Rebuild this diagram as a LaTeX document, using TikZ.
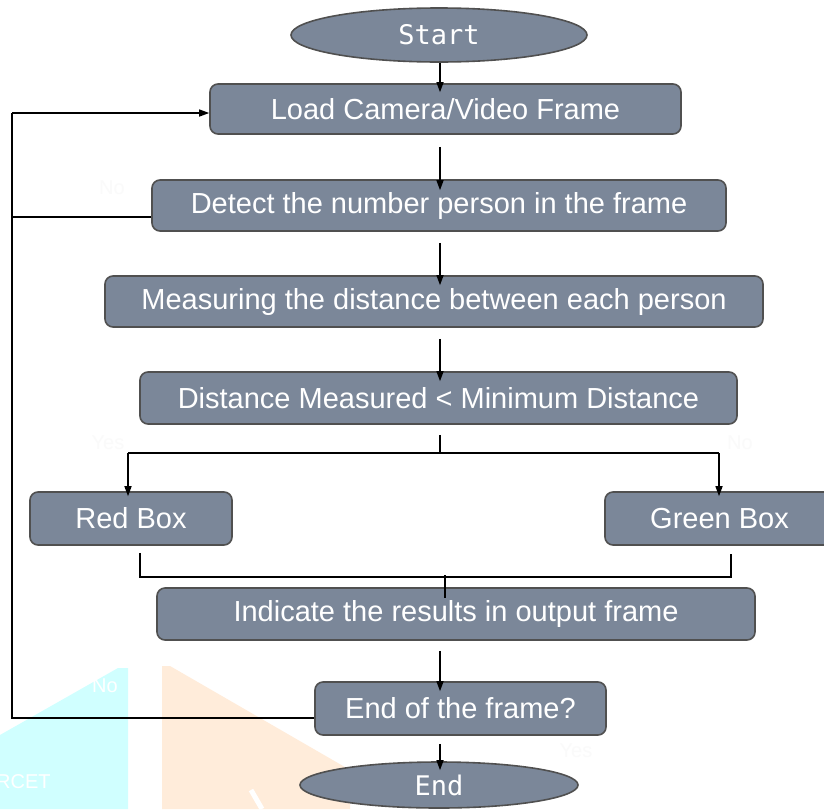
\documentclass[tikz,border=0pt]{standalone}
\usepackage{fontspec}
\setmainfont{Liberation Sans}
\newfontfamily\roundfont{DejaVu Sans Mono}
\usetikzlibrary{shapes.geometric,arrows.meta}

\definecolor{boxfill}{RGB}{123,135,153}
\definecolor{boxline}{RGB}{80,80,80}
\definecolor{markcyan}{RGB}{208,255,255}
\definecolor{markorange}{RGB}{255,236,218}
\definecolor{faint}{RGB}{250,250,250}

\tikzset{
  procbox/.style={draw=boxline, line width=1.6pt, fill=boxfill, rounded corners=8pt,
    text=white, inner sep=0pt, font=\fontsize{29}{33}\selectfont},
  termnode/.style={ellipse, draw=boxline, line width=1.6pt, fill=boxfill,
    text=white, inner sep=0pt, font=\roundfont\fontsize{27}{31}\selectfont},
  link/.style={line width=1.4pt, black},
  arr/.style={link, -{Triangle[length=10pt,width=7pt]}},
  ghost/.style={font=\fontsize{20}{24}\selectfont, inner sep=0pt}
}

\begin{document}
\begin{tikzpicture}[x=1pt, y=-1pt]
  \useasboundingbox (0,0) rectangle (824,809);
  \fill[white] (0,0) rectangle (824,809);

  % background watermark shapes
  \fill[markcyan] (0,735) -- (118,668) -- (128,668) -- (128,809) -- (0,809) -- cycle;
  \fill[markorange] (162,666) -- (170,666) -- (350,770) -- (350,809) -- (162,809) -- cycle;
  \draw[white, line width=5pt] (251,790) -- (262,809);
  \node[ghost, text=white, anchor=west] (rcet) at (-4,782) {RCET};
  \node[ghost, text=white] (noA) at (105,686) {No};

  % faint branch labels
  \node[ghost, text=faint] (noB) at (112,188) {No};
  \node[ghost, text=faint] (yesA) at (108,443) {Yes};
  \node[ghost, text=faint] (noC) at (740,443) {No};
  \node[ghost, text=faint] (yesB) at (576,751) {Yes};

  % flowchart nodes
  \node[termnode, minimum width=296pt, minimum height=54pt] (start) at (439,35) {Start};
  \node[procbox, minimum width=471pt, minimum height=50pt] (load) at (445.5,109) {Load Camera/Video Frame};
  \node[procbox, minimum width=574pt, minimum height=51pt] (detect) at (439,205.5) {Detect the number person in the frame};
  \node[procbox, minimum width=658pt, minimum height=51pt] (measure) at (434,301.5) {Measuring the distance between each person};
  \node[procbox, minimum width=597pt, minimum height=52pt] (cmp) at (438.5,398) {Distance Measured < Minimum Distance};
  \node[procbox, minimum width=202pt, minimum height=53pt] (red) at (131,518.5) {Red Box};
  \node[procbox, minimum width=229pt, minimum height=53pt] (green) at (719.5,518.5) {Green Box};
  \node[procbox, minimum width=598pt, minimum height=52pt] (indicate) at (456,614) {Indicate the results in output frame};
  \node[procbox, minimum width=291pt, minimum height=53pt] (endq) at (460.5,708.5) {End of the frame?};
  \node[termnode, minimum width=278pt, minimum height=46pt] (stop) at (439,785) {End};

  % junction points
  \coordinate (loopTop) at (12,113);
  \coordinate (loopMid) at (12,217);
  \coordinate (loopBot) at (12,718);
  \coordinate (split) at (440,453);
  \coordinate (splitL) at (128,453);
  \coordinate (splitR) at (719,453);
  \coordinate (joinL) at (140,577);
  \coordinate (joinR) at (731,577);
  \coordinate (join) at (445,577);

  % main flow
  \draw[arr] (start.south -| 440,0) -- ([yshift=-9pt]load.north -| 440,0);
  \draw[arr] ([yshift=-12pt]load.south -| 440,0) -- ([yshift=-11pt]detect.north -| 440,0);
  \draw[arr] ([yshift=-11pt]detect.south -| 440,0) -- ([yshift=-10pt]measure.north -| 440,0);
  \draw[arr] ([yshift=-11pt]measure.south -| 440,0) -- ([yshift=-10pt]cmp.north -| 440,0);

  % branch to the two boxes
  \draw[link] ([yshift=-10pt]cmp.south -| 440,0) -- (split);
  \draw[link] (splitL) -- (splitR);
  \draw[arr] (splitL) -- ([yshift=-5pt]red.north -| splitL);
  \draw[arr] (splitR) -- ([yshift=-5pt]green.north -| splitR);

  % merge into the output step
  \draw[link] ([yshift=-7pt]red.south -| joinL) -- (joinL) -- (joinR) -- ([yshift=-8pt]green.south -| joinR);
  \draw[link] ([yshift=2pt]join) -- ([yshift=-11pt]indicate.north -| join);

  \draw[arr] ([yshift=-10pt]indicate.south -| 440,0) -- ([yshift=-10pt]endq.north -| 440,0);
  \draw[arr] ([yshift=-8pt]endq.south -| 440,0) -- ([yshift=-9pt]stop.north -| 440,0);

  % loop back to loading the next frame
  \draw[link] (endq.west |- loopBot) -- (loopBot) -- (loopTop);
  \draw[arr] (loopTop) -- (load.west |- loopTop);
  \draw[link] (detect.west |- loopMid) -- (loopMid);
\end{tikzpicture}
\end{document}
